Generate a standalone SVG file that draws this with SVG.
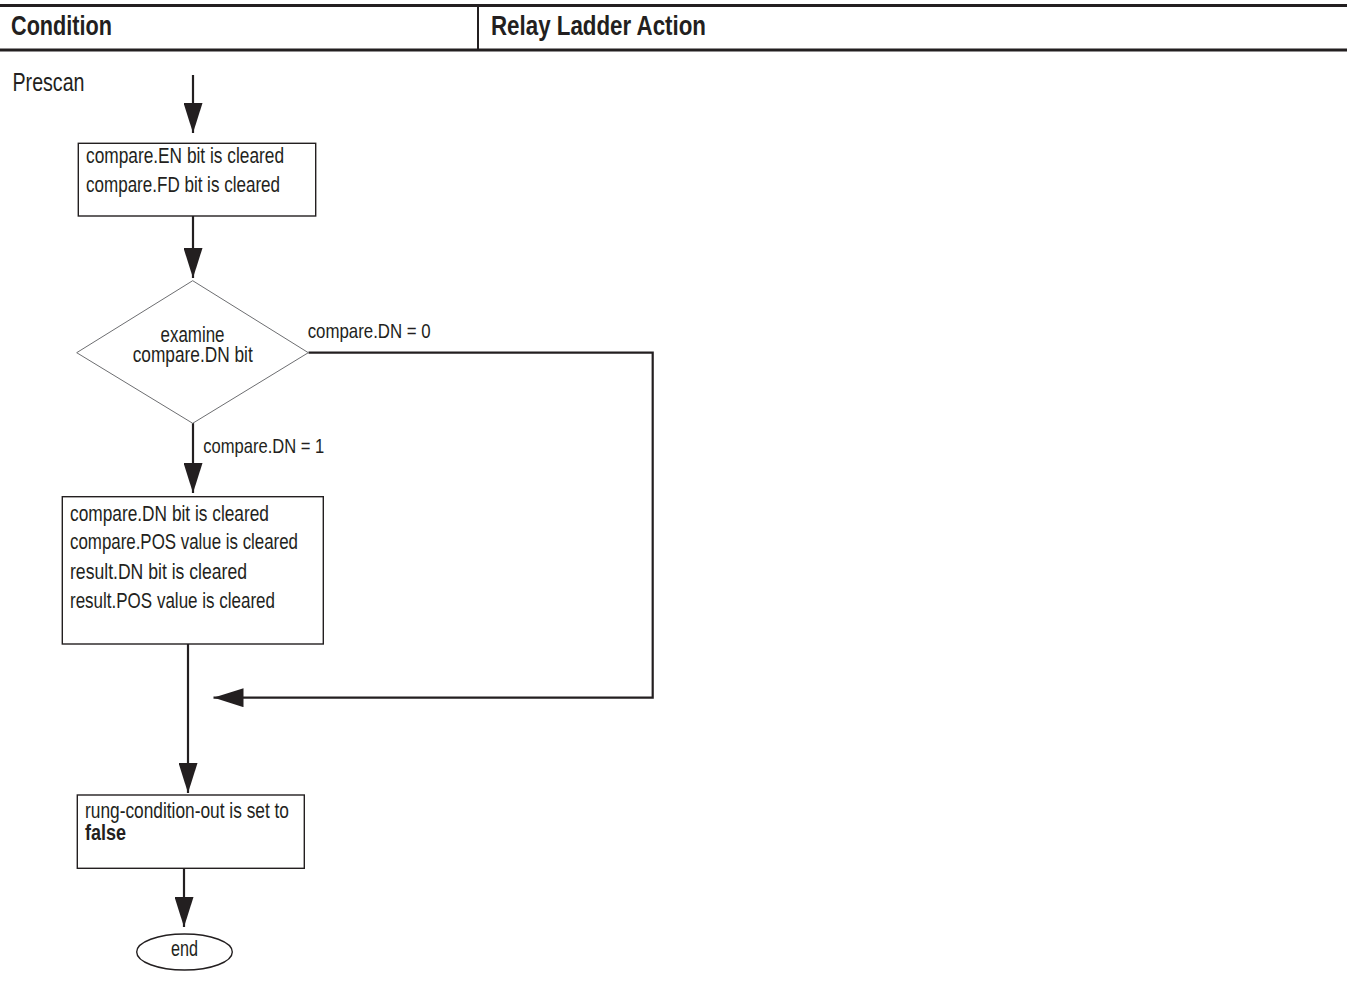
<svg xmlns="http://www.w3.org/2000/svg" width="1347" height="988" viewBox="0 0 1347 988">
  <style>
    text { font-family: "Liberation Sans Narrow", "Liberation Sans", Arial, sans-serif; fill: #231f20; }
    .hdr { font-size: 27px; font-weight: bold; }
    .txt { font-size: 22px; }
    .lbl { font-size: 21px; }
    .b { font-weight: bold; }
    .box { fill: #ffffff; stroke: #231f20; stroke-width: 1.4; }
    .dia { fill: #ffffff; stroke: #6d6e71; stroke-width: 1; }
    .wire { fill: none; stroke: #231f20; stroke-width: 2.2; }
    .rule { stroke: #231f20; stroke-width: 3; }
  </style>
  <defs>
    <marker id="arrow" viewBox="0 0 30 19" refX="30" refY="9.5" markerWidth="30" markerHeight="19" markerUnits="userSpaceOnUse" orient="auto">
      <path d="M0,0 L30,9.5 L0,19 Z" fill="#231f20"/>
    </marker>
  </defs>

  <rect width="1347" height="988" fill="#ffffff"/>

  <!-- table header -->
  <g id="header">
    <line class="rule" x1="0" y1="5.5" x2="1347" y2="5.5"/>
    <line class="rule" x1="0" y1="50" x2="1347" y2="50"/>
    <line stroke="#231f20" stroke-width="2" x1="478" y1="5.5" x2="478" y2="50"/>
    <text class="hdr" x="11" y="34.5" textLength="101" lengthAdjust="spacingAndGlyphs">Condition</text>
    <text class="hdr" x="491" y="34.5" textLength="215" lengthAdjust="spacingAndGlyphs">Relay Ladder Action</text>
  </g>

  <g id="prescan">
    <text x="12.5" y="90.5" font-size="25" textLength="72" lengthAdjust="spacingAndGlyphs">Prescan</text>
  </g>

  <!-- connectors -->
  <g id="connectors">
    <line class="wire" x1="193" y1="75" x2="193" y2="133" marker-end="url(#arrow)"/>
    <line class="wire" x1="193" y1="216" x2="193" y2="278" marker-end="url(#arrow)"/>
    <line class="wire" x1="193" y1="423" x2="193" y2="493" marker-end="url(#arrow)"/>
    <polyline class="wire" points="308.5,352.7 652.7,352.7 652.7,697.7 213.5,697.7" marker-end="url(#arrow)"/>
    <line class="wire" x1="188" y1="644" x2="188" y2="793" marker-end="url(#arrow)"/>
    <line class="wire" x1="184" y1="868" x2="184" y2="927" marker-end="url(#arrow)"/>
    <text class="lbl" x="307.7" y="338.3" textLength="123" lengthAdjust="spacingAndGlyphs">compare.DN = 0</text>
    <text class="lbl" x="203.3" y="452.7" textLength="121" lengthAdjust="spacingAndGlyphs">compare.DN = 1</text>
  </g>

  <g id="clear-en-fd">
    <rect class="box" x="78.3" y="143.3" width="237.4" height="72.7"/>
    <text class="txt" x="86" y="163.3" textLength="198" lengthAdjust="spacingAndGlyphs">compare.EN bit is cleared</text>
    <text class="txt" x="86" y="192.3" textLength="194" lengthAdjust="spacingAndGlyphs">compare.FD bit is cleared</text>
  </g>

  <g id="examine-dn">
    <polygon class="dia" points="192.7,280.7 308.3,352.7 192.7,423.3 76.7,352.7"/>
    <text class="txt" x="192.5" y="341.7" text-anchor="middle" textLength="64" lengthAdjust="spacingAndGlyphs">examine</text>
    <text class="txt" x="192.7" y="362.3" text-anchor="middle" textLength="120" lengthAdjust="spacingAndGlyphs">compare.DN bit</text>
  </g>

  <g id="clear-dn-pos">
    <rect class="box" x="62.3" y="496.7" width="261" height="147.3"/>
    <text class="txt" x="70" y="520.7" textLength="199" lengthAdjust="spacingAndGlyphs">compare.DN bit is cleared</text>
    <text class="txt" x="70" y="549.3" textLength="228" lengthAdjust="spacingAndGlyphs">compare.POS value is cleared</text>
    <text class="txt" x="70" y="579" textLength="177" lengthAdjust="spacingAndGlyphs">result.DN bit is cleared</text>
    <text class="txt" x="70" y="607.7" textLength="205" lengthAdjust="spacingAndGlyphs">result.POS value is cleared</text>
  </g>

  <g id="rung-false">
    <rect class="box" x="77.3" y="795" width="227" height="73.3"/>
    <text class="txt" x="85" y="817.7" textLength="204" lengthAdjust="spacingAndGlyphs">rung-condition-out is set to</text>
    <text class="txt b" x="85" y="840" textLength="41" lengthAdjust="spacingAndGlyphs">false</text>
  </g>

  <g id="end">
    <ellipse class="box" cx="184.5" cy="952" rx="47.8" ry="18"/>
    <text class="txt" x="184.5" y="955.7" text-anchor="middle" textLength="27" lengthAdjust="spacingAndGlyphs">end</text>
  </g>
</svg>
